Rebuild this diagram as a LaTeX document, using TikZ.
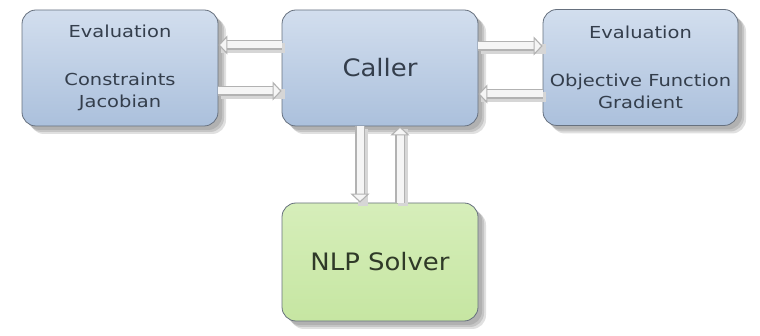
\documentclass[tikz,border=0pt]{standalone}
\usepackage{fontspec}
\setmainfont{DejaVu Sans}
\newfontfamily\smallwide[FakeStretch=1.18]{DejaVu Sans}
\newfontfamily\bigwide[FakeStretch=1.08]{DejaVu Sans}
\usetikzlibrary{shadows,arrows.meta,calc}
\definecolor{bluetop}{HTML}{D2DEEE}
\definecolor{bluebot}{HTML}{ABC0DC}
\definecolor{greentop}{HTML}{D6EEBA}
\definecolor{greenbot}{HTML}{C6E6A2}
\definecolor{edge}{HTML}{66707E}
\definecolor{txt}{HTML}{343E4C}
\definecolor{gtxt}{HTML}{2F3A28}
\tikzset{
  softshadow/.style={
    drop shadow={shadow xshift=4pt,shadow yshift=-4pt,fill=black,opacity=.10},
    drop shadow={shadow xshift=6pt,shadow yshift=-6pt,fill=black,opacity=.12},
    drop shadow={shadow xshift=8pt,shadow yshift=-8pt,fill=black,opacity=.12}},
  box/.style={rectangle, rounded corners=14pt, draw=edge, line width=0.8pt,
    minimum width=196pt, minimum height=116pt, inner sep=2pt, align=center, softshadow},
  bluebox/.style={box, top color=bluetop, bottom color=bluebot, text=txt},
  greenbox/.style={box, top color=greentop, bottom color=greenbot, text=gtxt},
  flow/.style={draw=gray!60, line width=1.1pt, double=gray!8, double distance=7pt,
    -{Triangle[length=9pt,width=19pt,fill=gray!8,line width=1.1pt]},
    preaction={draw=black!16, double=black!16, -, transform canvas={xshift=3pt,yshift=-3pt}}},
  small/.style={font=\smallwide\fontsize{16.5}{22}\selectfont},
  big/.style={font=\bigwide\fontsize{24}{28}\selectfont}
}
\begin{document}
\begin{tikzpicture}[x=1pt,y=-1pt]
\useasboundingbox (0,0) rectangle (760,336);
\node[bluebox, small] (left) at (120,68) {Evaluation\\[26pt]Constraints\\Jacobian};
\node[bluebox, big] (caller) at (380,68) {Caller};
\node[bluebox, small, minimum width=195pt] (right) at (640.5,67.5) {Evaluation\\[26pt]Objective Function\\Gradient};
\node[greenbox, big, minimum height=118pt] (nlp) at (380,262) {NLP Solver};

\draw[flow] ([yshift=23pt]caller.west) -- ([yshift=23pt]left.east);
\draw[flow] ([yshift=-23pt]left.east) -- ([yshift=-23pt]caller.west);
\draw[flow] ([yshift=22pt]caller.east) -- ([yshift=21.5pt]right.west);
\draw[flow] ([yshift=-26.5pt]right.west) -- ([yshift=-26pt]caller.east);
\draw[flow] ([xshift=-20pt]caller.south) -- ([xshift=-20pt]nlp.north);
\draw[flow] ([xshift=20pt]nlp.north) -- ([xshift=20pt]caller.south);
\end{tikzpicture}
\end{document}
